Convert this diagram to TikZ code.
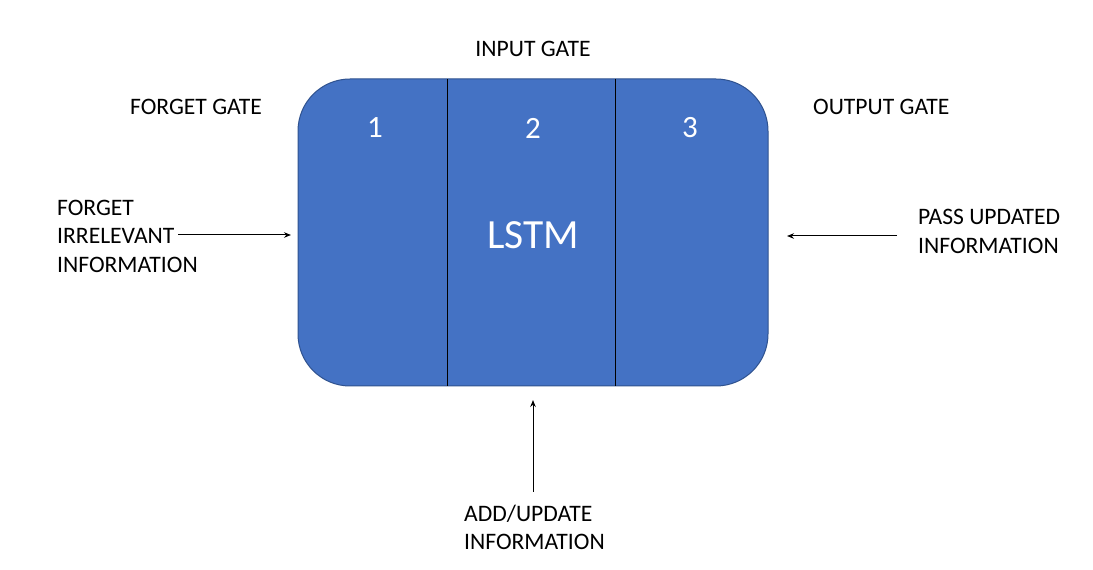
\documentclass[tikz,border=0pt]{standalone}
\usepackage{fontspec}
\setmainfont{Carlito}
\usetikzlibrary{arrows.meta}
\definecolor{boxfill}{HTML}{4472C4}
\definecolor{boxline}{HTML}{2F528F}
\begin{document}
\begin{tikzpicture}[x=1pt,y=1pt,
  lbl/.style={inner sep=0pt, font=\fontsize{23.6}{28.5}\selectfont, text=black},
  num/.style={inner sep=0pt, font=\fontsize{31}{36}\selectfont, text=white},
  conn/.style={line width=1pt, -{Stealth[length=7pt,width=5.5pt]}}
]
\useasboundingbox (0,0) rectangle (1093,570);
% main box (y flipped: y = 570 - ypix)
\node[draw=boxline, fill=boxfill, line width=1pt, rounded corners=52pt,
  minimum width=470pt, minimum height=307pt, inner sep=0pt] (box) at (533,337.5) {};
\coordinate (d1t) at (447,491);
\coordinate (d1b) at (447,184);
\coordinate (d2t) at (615,491);
\coordinate (d2b) at (615,184);
\draw[line width=1pt, black] (d1t) -- (d1b);
\draw[line width=1pt, black] (d2t) -- (d2b);
\node[num] (n1) at (375,442) {1};
\node[num] (n2) at (533,442) {2};
\node[num] (n3) at (690,442) {3};
\node[inner sep=0pt, font=\fontsize{41.5}{46}\selectfont, text=white] (lstm) at (533,335) {LSTM};
% gate labels
\node[lbl] (ig) at (533,521) {INPUT GATE};
\node[lbl, anchor=west] (fg) at (130,463) {FORGET GATE};
\node[lbl, anchor=west] (og) at (813,463) {OUTPUT GATE};
% side texts
\node[lbl, anchor=west, align=left] (fi) at (57,334) {FORGET\\IRRELEVANT\\INFORMATION};
\node[lbl, anchor=west, align=left] (pu) at (918,338.5) {PASS UPDATED\\INFORMATION};
\node[lbl, anchor=west, align=left] (au) at (464,42.5) {ADD/UPDATE\\INFORMATION};
% arrows
\coordinate (fiend) at (178,335);
\coordinate (boxl) at (291,335);
\coordinate (pustart) at (897,334);
\coordinate (boxr) at (787,334);
\coordinate (austart) at (533,78);
\coordinate (boxb) at (533,170);
\draw[conn] (fiend) -- (boxl);
\draw[conn] (pustart) -- (boxr);
\draw[conn] (austart) -- (boxb);
\end{tikzpicture}
\end{document}
